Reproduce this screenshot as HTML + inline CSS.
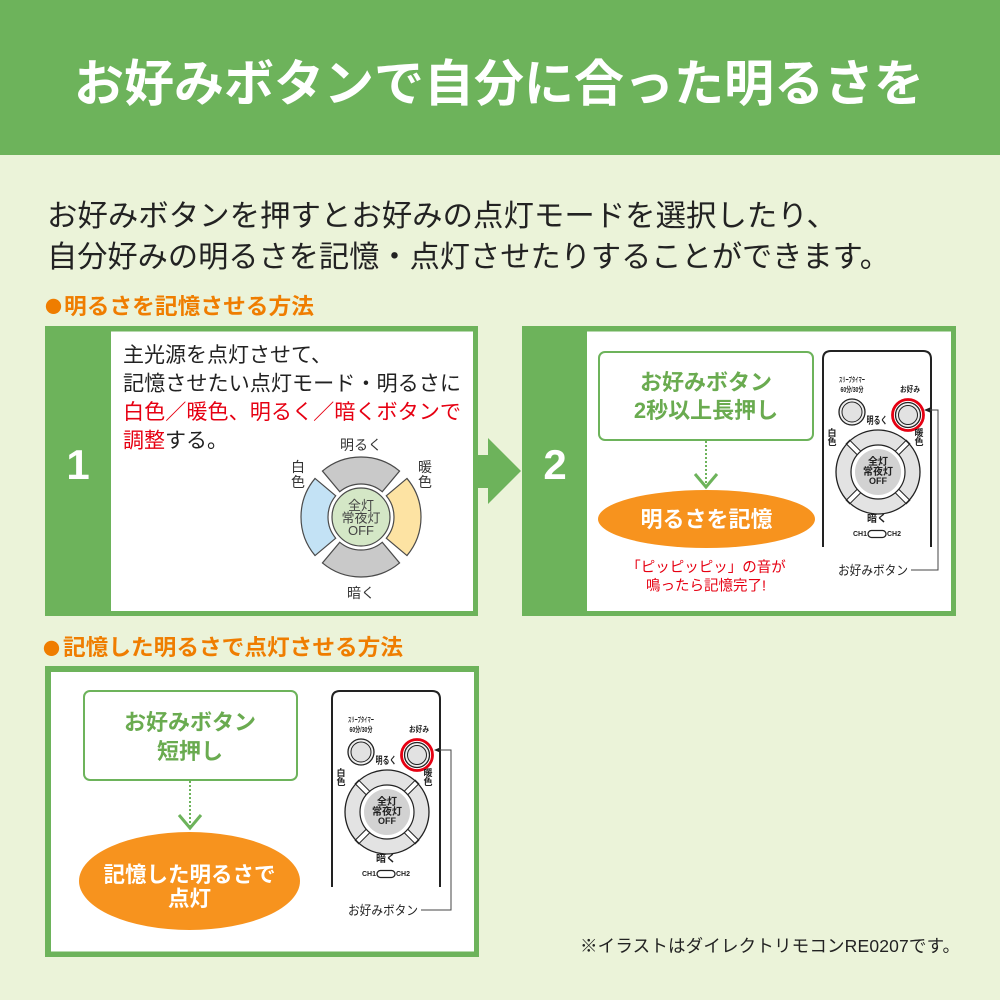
<!DOCTYPE html>
<html lang="ja">
<head>
<meta charset="utf-8">
<style>
html,body{margin:0;padding:0;background:#ebf3d9;}
body{width:1000px;height:1000px;overflow:hidden;}
svg{display:block;}
text{font-family:"Liberation Sans","Noto Sans CJK JP",sans-serif;}
</style>
</head>
<body>
<svg width="1000" height="1000" viewBox="0 0 1000 1000" xmlns="http://www.w3.org/2000/svg">
  <!-- background -->
  <rect x="0" y="0" width="1000" height="1000" fill="#ebf3d9"/>
  <!-- header -->
  <rect x="0" y="0" width="1000" height="155" fill="#6db35b"/>
  <text x="74" y="101" font-size="50" font-weight="bold" fill="#fff" textLength="850" lengthAdjust="spacingAndGlyphs">お好みボタンで自分に合った明るさを</text>

  <!-- description -->
  <text x="47" y="226" font-size="30" fill="#222" textLength="790" lengthAdjust="spacingAndGlyphs">お好みボタンを押すとお好みの点灯モードを選択したり、</text>
  <text x="47" y="267" font-size="30" fill="#222" textLength="843" lengthAdjust="spacingAndGlyphs">自分好みの明るさを記憶・点灯させたりすることができます。</text>

  <!-- heading 1 -->
  <text x="45" y="313" font-size="17" fill="#ef7d00" style="font-family:'Noto Sans CJK JP',sans-serif">●</text>
  <text x="64" y="314" font-size="22" font-weight="bold" fill="#ef7d00" style="font-family:'Noto Sans CJK JP',sans-serif" textLength="250" lengthAdjust="spacingAndGlyphs">明るさを記憶させる方法</text>

  <!-- panel 1 -->
  <rect x="45" y="326" width="433" height="290" fill="#6db35b"/>
  <rect x="111" y="331.5" width="362" height="279.5" fill="#fff"/>
  <text x="78" y="479" font-size="42" font-weight="bold" fill="#fff" text-anchor="middle">1</text>
  <text x="123" y="362" font-size="21" fill="#222">主光源を点灯させて、</text>
  <text x="123" y="390.5" font-size="21" fill="#222" textLength="338" lengthAdjust="spacingAndGlyphs">記憶させたい点灯モード・明るさに</text>
  <text x="123" y="419" font-size="21" fill="#e60012" textLength="338" lengthAdjust="spacingAndGlyphs">白色／暖色、明るく／暗くボタンで</text>
  <text x="123" y="447.5" font-size="21" fill="#222"><tspan fill="#e60012">調整</tspan>する。</text>

  <!-- dial diagram -->
  <g stroke="#4a4a4a" stroke-width="1.2">
    <path d="M322.43,471.04 A60,60 0 0 1 399.57,471.04 L382.21,491.72 A33,33 0 0 0 339.79,491.72 Z" fill="#c9c9c9"/>
    <path d="M406.96,478.43 A60,60 0 0 1 406.96,555.57 L386.28,538.21 A33,33 0 0 0 386.28,495.79 Z" fill="#fde3a3"/>
    <path d="M399.57,562.96 A60,60 0 0 1 322.43,562.96 L339.79,542.28 A33,33 0 0 0 382.21,542.28 Z" fill="#c9c9c9"/>
    <path d="M315.04,555.57 A60,60 0 0 1 315.04,478.43 L335.72,495.79 A33,33 0 0 0 335.72,538.21 Z" fill="#c3e2f5"/>
    <circle cx="361" cy="517" r="29" fill="#d4e7c6"/>
  </g>
  <text x="361" y="510" font-size="13" fill="#444" text-anchor="middle">全灯</text>
  <text x="361" y="522.5" font-size="13" fill="#444" text-anchor="middle">常夜灯</text>
  <text x="361" y="535" font-size="13" fill="#444" text-anchor="middle">OFF</text>
  <text x="361" y="450" font-size="14" fill="#333" text-anchor="middle">明るく</text>
  <text x="361" y="598" font-size="14" fill="#333" text-anchor="middle">暗く</text>
  <text x="298" y="472" font-size="14" fill="#333" text-anchor="middle">白</text>
  <text x="298" y="487" font-size="14" fill="#333" text-anchor="middle">色</text>
  <text x="425" y="472" font-size="14" fill="#333" text-anchor="middle">暖</text>
  <text x="425" y="487" font-size="14" fill="#333" text-anchor="middle">色</text>

  <!-- arrow between panels -->
  <rect x="477" y="455" width="12" height="33" fill="#6db35b"/>
  <polygon points="488,438 521,471 488,504" fill="#6db35b"/>

  <!-- panel 2 -->
  <rect x="522" y="326" width="434" height="290" fill="#6db35b"/>
  <rect x="587" y="331.5" width="364" height="279.5" fill="#fff"/>
  <text x="555" y="479" font-size="42" font-weight="bold" fill="#fff" text-anchor="middle">2</text>

  <rect x="599" y="352" width="214" height="88" rx="6" fill="#fff" stroke="#6db35b" stroke-width="2"/>
  <text x="706" y="390" font-size="22" font-weight="bold" fill="#6aab50" text-anchor="middle">お好みボタン</text>
  <text x="706" y="418" font-size="22" font-weight="bold" fill="#6aab50" text-anchor="middle">2秒以上長押し</text>
  <line x1="706" y1="441" x2="706" y2="485" stroke="#6db35b" stroke-width="2" stroke-dasharray="2,2"/>
  <polyline points="695,474 706,487 717,474" fill="none" stroke="#6db35b" stroke-width="3"/>
  <ellipse cx="706.5" cy="519" rx="108.5" ry="29" fill="#f7931e"/>
  <text x="706.5" y="527" font-size="22" font-weight="bold" fill="#fff" text-anchor="middle">明るさを記憶</text>
  <text x="706" y="572" font-size="14.5" fill="#e60012" text-anchor="middle">「ピッピッピッ」の音が</text>
  <text x="706" y="590.5" font-size="14.5" fill="#e60012" text-anchor="middle">鳴ったら記憶完了!</text>

  <!-- remote panel 2 -->
  <g transform="translate(822,350)" font-weight="bold" fill="#222">
    <path d="M1,197 V9 Q1,1 9,1 H101 Q109,1 109,9 V197" fill="#fff" stroke="#222" stroke-width="2"/>
    <text x="30" y="32" font-size="7" text-anchor="middle" textLength="26" lengthAdjust="spacingAndGlyphs">スリープタイマー</text>
    <text x="30" y="42" font-size="7.5" text-anchor="middle" textLength="23" lengthAdjust="spacingAndGlyphs">60分/30分</text>
    <circle cx="30" cy="62" r="13" fill="#f0f0f0" stroke="#222" stroke-width="1.3"/>
    <circle cx="30" cy="62" r="10" fill="#e2e2e2" stroke="#222" stroke-width="1"/>
    <text x="88" y="42" font-size="8" text-anchor="middle" textLength="20" lengthAdjust="spacingAndGlyphs">お好み</text>
    <circle cx="86" cy="65" r="12.5" fill="#f0f0f0" stroke="#222" stroke-width="1.3"/>
    <circle cx="86" cy="65" r="9.5" fill="#e2e2e2" stroke="#222" stroke-width="1"/>
    <circle cx="86" cy="65" r="15.5" fill="none" stroke="#e60012" stroke-width="2.8"/>
    <text x="55" y="74" font-size="10" text-anchor="middle" textLength="21" lengthAdjust="spacingAndGlyphs">明るく</text>
    <text x="10" y="86" font-size="9" text-anchor="middle">白</text>
    <text x="10" y="95" font-size="9" text-anchor="middle">色</text>
    <text x="97" y="86" font-size="9" text-anchor="middle">暖</text>
    <text x="97" y="95" font-size="9" text-anchor="middle">色</text>
    <circle cx="56" cy="122" r="42" fill="#e3e3e3"/>
    <g transform="translate(56,122)">
      <rect transform="rotate(45)" x="26" y="-2.5" width="16.5" height="5" fill="#fff" stroke="#222" stroke-width="1"/>
      <rect transform="rotate(135)" x="26" y="-2.5" width="16.5" height="5" fill="#fff" stroke="#222" stroke-width="1"/>
      <rect transform="rotate(225)" x="26" y="-2.5" width="16.5" height="5" fill="#fff" stroke="#222" stroke-width="1"/>
      <rect transform="rotate(315)" x="26" y="-2.5" width="16.5" height="5" fill="#fff" stroke="#222" stroke-width="1"/>
    </g>
    <circle cx="56" cy="122" r="42" fill="none" stroke="#222" stroke-width="1.3"/>
    <circle cx="56" cy="122" r="27" fill="#fff" stroke="#222" stroke-width="1.2"/>
    <circle cx="56" cy="122" r="23" fill="#d2d2d2"/>
    <text x="56" y="115" font-size="10" text-anchor="middle">全灯</text>
    <text x="56" y="125" font-size="10" text-anchor="middle">常夜灯</text>
    <text x="56" y="134" font-size="9" text-anchor="middle">OFF</text>
    <text x="55" y="172" font-size="10" text-anchor="middle">暗く</text>
    <text x="38" y="186" font-size="7" text-anchor="middle">CH1</text>
    <rect x="46" y="180.5" width="18" height="7" rx="3.5" fill="#fff" stroke="#222" stroke-width="1.3"/>
    <text x="72" y="186" font-size="7" text-anchor="middle">CH2</text>
  </g>
  <text x="873" y="575" font-size="13" fill="#222" text-anchor="middle" textLength="70" lengthAdjust="spacingAndGlyphs">お好みボタン</text>
  <polyline points="911,570 938,570 938,410 929,410" fill="none" stroke="#444" stroke-width="1"/>
  <polygon points="924,410 930,407.5 930,412.5" fill="#222"/>

  <!-- heading 2 -->
  <text x="43" y="655" font-size="17" fill="#ef7d00" style="font-family:'Noto Sans CJK JP',sans-serif">●</text>
  <text x="63" y="655" font-size="22" font-weight="bold" fill="#ef7d00" style="font-family:'Noto Sans CJK JP',sans-serif" textLength="340" lengthAdjust="spacingAndGlyphs">記憶した明るさで点灯させる方法</text>

  <!-- panel 3 -->
  <rect x="45" y="666" width="434" height="291" fill="#6db35b"/>
  <rect x="51" y="672" width="423" height="279.5" fill="#fff"/>
  <rect x="84" y="691" width="213" height="89" rx="6" fill="#fff" stroke="#6db35b" stroke-width="2"/>
  <text x="190" y="730" font-size="22" font-weight="bold" fill="#6aab50" text-anchor="middle">お好みボタン</text>
  <text x="190" y="759" font-size="22" font-weight="bold" fill="#6aab50" text-anchor="middle">短押し</text>
  <line x1="190" y1="781" x2="190" y2="826" stroke="#6db35b" stroke-width="2" stroke-dasharray="2,2"/>
  <polyline points="179,815 190,828 201,815" fill="none" stroke="#6db35b" stroke-width="3"/>
  <ellipse cx="189.5" cy="881" rx="110.5" ry="49" fill="#f7931e"/>
  <text x="189.5" y="882" font-size="21.5" font-weight="bold" fill="#fff" text-anchor="middle">記憶した明るさで</text>
  <text x="189.5" y="906" font-size="21.5" font-weight="bold" fill="#fff" text-anchor="middle">点灯</text>

  <!-- remote panel 3 -->
  <g transform="translate(331,690)" font-weight="bold" fill="#222">
    <path d="M1,197 V9 Q1,1 9,1 H101 Q109,1 109,9 V197" fill="#fff" stroke="#222" stroke-width="2"/>
    <text x="30" y="32" font-size="7" text-anchor="middle" textLength="26" lengthAdjust="spacingAndGlyphs">スリープタイマー</text>
    <text x="30" y="42" font-size="7.5" text-anchor="middle" textLength="23" lengthAdjust="spacingAndGlyphs">60分/30分</text>
    <circle cx="30" cy="62" r="13" fill="#f0f0f0" stroke="#222" stroke-width="1.3"/>
    <circle cx="30" cy="62" r="10" fill="#e2e2e2" stroke="#222" stroke-width="1"/>
    <text x="88" y="42" font-size="8" text-anchor="middle" textLength="20" lengthAdjust="spacingAndGlyphs">お好み</text>
    <circle cx="86" cy="65" r="12.5" fill="#f0f0f0" stroke="#222" stroke-width="1.3"/>
    <circle cx="86" cy="65" r="9.5" fill="#e2e2e2" stroke="#222" stroke-width="1"/>
    <circle cx="86" cy="65" r="15.5" fill="none" stroke="#e60012" stroke-width="2.8"/>
    <text x="55" y="74" font-size="10" text-anchor="middle" textLength="21" lengthAdjust="spacingAndGlyphs">明るく</text>
    <text x="10" y="86" font-size="9" text-anchor="middle">白</text>
    <text x="10" y="95" font-size="9" text-anchor="middle">色</text>
    <text x="97" y="86" font-size="9" text-anchor="middle">暖</text>
    <text x="97" y="95" font-size="9" text-anchor="middle">色</text>
    <circle cx="56" cy="122" r="42" fill="#e3e3e3"/>
    <g transform="translate(56,122)">
      <rect transform="rotate(45)" x="26" y="-2.5" width="16.5" height="5" fill="#fff" stroke="#222" stroke-width="1"/>
      <rect transform="rotate(135)" x="26" y="-2.5" width="16.5" height="5" fill="#fff" stroke="#222" stroke-width="1"/>
      <rect transform="rotate(225)" x="26" y="-2.5" width="16.5" height="5" fill="#fff" stroke="#222" stroke-width="1"/>
      <rect transform="rotate(315)" x="26" y="-2.5" width="16.5" height="5" fill="#fff" stroke="#222" stroke-width="1"/>
    </g>
    <circle cx="56" cy="122" r="42" fill="none" stroke="#222" stroke-width="1.3"/>
    <circle cx="56" cy="122" r="27" fill="#fff" stroke="#222" stroke-width="1.2"/>
    <circle cx="56" cy="122" r="23" fill="#d2d2d2"/>
    <text x="56" y="115" font-size="10" text-anchor="middle">全灯</text>
    <text x="56" y="125" font-size="10" text-anchor="middle">常夜灯</text>
    <text x="56" y="134" font-size="9" text-anchor="middle">OFF</text>
    <text x="55" y="172" font-size="10" text-anchor="middle">暗く</text>
    <text x="38" y="186" font-size="7" text-anchor="middle">CH1</text>
    <rect x="46" y="180.5" width="18" height="7" rx="3.5" fill="#fff" stroke="#222" stroke-width="1.3"/>
    <text x="72" y="186" font-size="7" text-anchor="middle">CH2</text>
  </g>
  <text x="383" y="915" font-size="13" fill="#222" text-anchor="middle" textLength="70" lengthAdjust="spacingAndGlyphs">お好みボタン</text>
  <polyline points="421,910 451,910 451,750 440,750" fill="none" stroke="#444" stroke-width="1"/>
  <polygon points="434,750 440,747.5 440,752.5" fill="#222"/>

  <!-- footer note -->
  <text x="580" y="952" font-size="17.5" fill="#222" textLength="380" lengthAdjust="spacing">※イラストはダイレクトリモコンRE0207です。</text>
</svg>
</body>
</html>
